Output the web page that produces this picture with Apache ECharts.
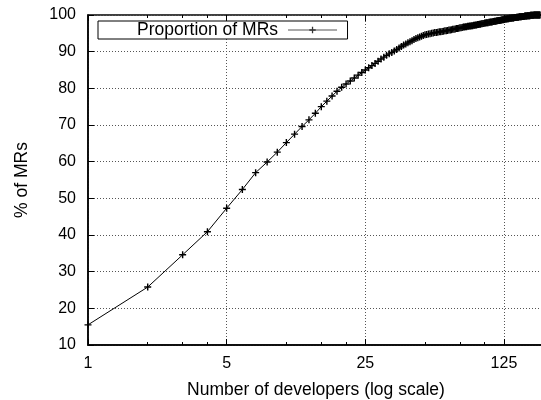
<!DOCTYPE html>
<html><head><meta charset="utf-8">
<script src="https://cdn.jsdelivr.net/npm/echarts@6/dist/echarts.min.js"></script>
<style>html,body{margin:0;padding:0;background:#fff}#c{width:541px;height:400px}</style>
</head><body><div id="c"></div>
<script>
const developers = [
  1,2,3,4,5,6,7,8,9,10,11,12,13,14,15,16,17,18,19,20,
  21,22,23,24,25,26,27,28,29,30,31,32,33,34,35,36,37,38,39,40,
  41,42,43,44,45,46,47,48,49,50,51,52,53,54,55,56,57,58,59,60,
  61,62,63,64,65,66,67,68,69,70,71,72,73,74,75,76,77,78,79,80,
  81,82,83,84,85,86,87,88,89,90,91,92,93,94,95,96,97,98,99,100,
  101,102,103,104,105,106,107,108,109,110,111,112,113,114,115,116,117,118,119,120,
  121,122,123,124,125,126,127,128,129,130,131,132,133,134,135,136,137,138,139,140,
  141,142,143,144,145,146,147,148,149,150,151,152,153,154,155,156,157,158,159,160,
  161,162,163,164,165,166,167,168,169,170,171,172,173,174,175,176,177,178,179,180,
  181,182,183,184,185,186,187,188,189,190
];
const proportion = [
  15.5,25.8,34.6,40.9,47.3,52.4,57.0,59.9,62.6,65.2,67.5,69.6,71.4,73.2,75.0,76.5,77.9,79.2,80.3,81.2,
  82.0,82.8,83.6,84.3,85.0,85.6,86.2,86.8,87.4,88.0,88.5,89.0,89.4,89.8,90.2,90.6,91.0,91.4,91.8,92.1,
  92.4,92.7,93.0,93.3,93.6,93.8,94.0,94.2,94.4,94.6,94.7,94.8,94.9,95.0,95.1,95.2,95.2,95.3,95.4,95.4,
  95.5,95.6,95.7,95.7,95.8,95.9,95.9,96.0,96.1,96.1,96.2,96.3,96.3,96.4,96.5,96.5,96.6,96.7,96.7,96.8,
  96.8,96.9,96.9,97.0,97.0,97.1,97.1,97.2,97.2,97.3,97.3,97.4,97.4,97.5,97.5,97.6,97.6,97.7,97.7,97.8,
  97.8,97.9,97.9,97.9,98.0,98.0,98.1,98.1,98.1,98.2,98.2,98.3,98.3,98.3,98.4,98.4,98.5,98.5,98.5,98.6,
  98.6,98.7,98.7,98.7,98.8,98.8,98.9,98.9,98.9,99.0,99.0,99.0,99.1,99.1,99.1,99.1,99.2,99.2,99.2,99.2,
  99.3,99.3,99.3,99.3,99.4,99.4,99.4,99.4,99.5,99.5,99.5,99.5,99.5,99.6,99.6,99.6,99.6,99.6,99.7,99.7,
  99.7,99.7,99.7,99.8,99.8,99.8,99.8,99.8,99.8,99.9,99.9,99.9,99.9,99.9,99.9,99.9,100.0,100.0,100.0,100.0,
  100.0,100.0,100.0,100.0,100.0,100.0,100.0,100.0,100.0,100.0
];
const xMajorTicks = [1, 5, 25, 125];
const xMinorTicks = [2, 3, 4, 10, 15, 20, 50, 75, 100];
const seriesName = 'Proportion of MRs';
const xTitle = 'Number of developers (log scale)';
const yTitle = '% of MRs';

const FONT = '"Liberation Sans", Arial, Helvetica, sans-serif';
const plus = 'path://M4,0H6V4H10V6H6V10H4V6H0V4H4Z';
const gridLine = { type: [1, 2], color: '#555', width: 1 };

function tickAxis(position, values, len) {
  return {
    type: 'log', logBase: 5, min: 1, max: 199, gridIndex: 0, position: position,
    axisLine: { show: false, onZero: false },
    axisTick: { show: true, inside: true, length: len, customValues: values, lineStyle: { color: '#000', width: 1 } },
    axisLabel: { show: false },
    splitLine: { show: false }
  };
}

const chart = echarts.init(document.getElementById('c'), null, { renderer: 'canvas' });
chart.setOption({
  animation: false,
  backgroundColor: '#fff',
  grid: { left: 88, top: 15, width: 456, height: 330, show: true, borderColor: '#000', borderWidth: 1.5,
          backgroundColor: 'transparent', containLabel: false, outerBoundsMode: 'none' },
  legend: {
    data: [seriesName], left: 98, top: 21, align: 'right', orient: 'horizontal',
    itemWidth: 49, itemHeight: 8, backgroundColor: '#fff', borderColor: '#000', borderWidth: 1,
    padding: [0, 10, 0, 39],
    lineStyle: { width: 1, color: '#555' },
    itemStyle: { color: '#333' },
    textStyle: { fontFamily: FONT, fontSize: 17.5, color: '#000', lineHeight: 18, padding: [0, 5, 0, 0] }
  },
  xAxis: [
    {
      type: 'log', logBase: 5, min: 1, max: 199, position: 'bottom',
      name: xTitle, nameLocation: 'middle', nameGap: 36,
      nameTextStyle: { fontFamily: FONT, fontSize: 17.5, color: '#000' },
      axisLine: { show: true, onZero: false, lineStyle: { color: '#000', width: 1.5 } },
      axisTick: { show: true, inside: true, length: 6, customValues: xMajorTicks, lineStyle: { color: '#000', width: 1 } },
      axisLabel: { customValues: xMajorTicks, fontFamily: FONT, fontSize: 16, color: '#000', margin: 11 },
      splitLine: { show: true, lineStyle: gridLine }
    },
    tickAxis('bottom', xMinorTicks, 3),
    tickAxis('top', xMajorTicks, 6),
    tickAxis('top', xMinorTicks, 3)
  ],
  yAxis: {
    type: 'value', min: 10, max: 100, interval: 10,
    name: yTitle, nameLocation: 'middle', nameGap: 57, nameRotate: 90,
    nameTextStyle: { fontFamily: FONT, fontSize: 17.5, color: '#000' },
    axisLine: { show: true, onZero: false, lineStyle: { color: '#000', width: 1.5 } },
    axisTick: { show: true, inside: true, length: 6, lineStyle: { color: '#000', width: 1 } },
    axisLabel: { fontFamily: FONT, fontSize: 16, color: '#000', margin: 12 },
    splitLine: { show: true, lineStyle: gridLine }
  },
  series: [{
    name: seriesName, type: 'line', xAxisIndex: 0, yAxisIndex: 0,
    data: developers.map((d, i) => [d, proportion[i]]),
    symbol: plus, symbolSize: 7, showSymbol: true, showAllSymbol: true,
    lineStyle: { color: '#000', width: 1 },
    itemStyle: { color: '#000' },
    clip: true
  }]
});
</script></body></html>
